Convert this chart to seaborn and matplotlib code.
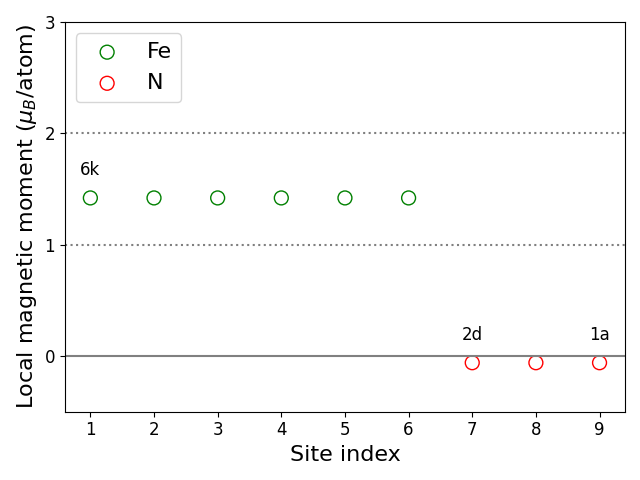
import matplotlib
matplotlib.use("Agg")
import matplotlib.pyplot as plt
import seaborn as sns
import pandas as pd

site_index = [1, 2, 3, 4, 5, 6, 7, 8, 9]
element = ["Fe", "Fe", "Fe", "Fe", "Fe", "Fe", "N", "N", "N"]
moment = [1.42, 1.42, 1.42, 1.42, 1.42, 1.42, -0.06, -0.06, -0.06]
labels = {1: "6k", 7: "2d", 9: "1a"}
colors = {"Fe": "green", "N": "red"}

df = pd.DataFrame({"site": site_index, "element": element, "moment": moment})

fig, ax = plt.subplots(figsize=(6.4, 4.8), dpi=100)
for el in ["Fe", "N"]:
    sub = df[df["element"] == el]
    sns.scatterplot(data=sub, x="site", y="moment", ax=ax, s=100,
                    facecolors="none", edgecolor=colors[el], linewidth=1.0,
                    marker="o", label=el)

ax.axhline(0, color="gray", linestyle="-", linewidth=1.5)
ax.axhline(1, color="gray", linestyle=":", linewidth=1.5)
ax.axhline(2, color="gray", linestyle=":", linewidth=1.5)

for i, txt in labels.items():
    ax.text(i, moment[i - 1] + 0.25, txt, ha="center", va="center", fontsize=12)

ax.set_ylim(-0.5, 3)
ax.set_yticks([0, 1, 2, 3])
ax.set_xticks(site_index)
ax.tick_params(labelsize=12)
ax.set_xlabel("Site index", fontsize=16)
ax.set_ylabel(r"Local magnetic moment ($\mu_B$/atom)", fontsize=16)
ax.legend(fontsize=16, loc="upper left")
fig.tight_layout()
fig.savefig("out.png", dpi=100)
